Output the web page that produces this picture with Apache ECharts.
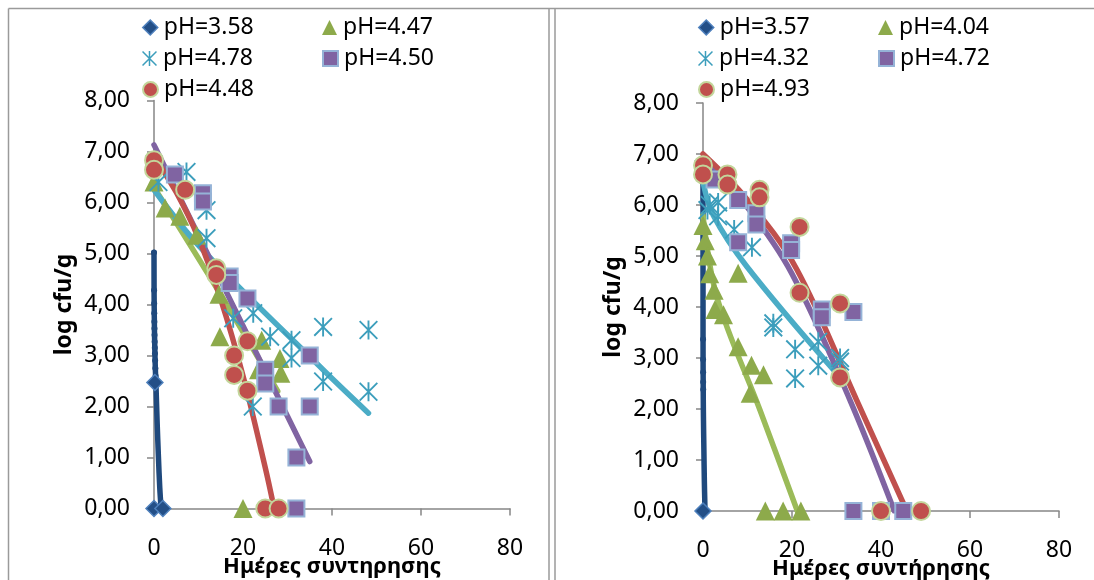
<!DOCTYPE html>
<html><head><meta charset="utf-8">
<script src="https://cdn.jsdelivr.net/npm/echarts@6/dist/echarts.min.js"></script>
<style>html,body{margin:0;padding:0;background:#fff}#c{width:1094px;height:580px}</style>
</head><body><div id="c"></div>
<script>
// ---------- DATA ----------
const yTickLabels = ['0,00','1,00','2,00','3,00','4,00','5,00','6,00','7,00','8,00'];
const xTickLabels = ['0','20','40','60','80'];
const xTitleLeft = 'Ημέρες συντηρησης';
const xTitleRight = 'Ημέρες συντήρησης';
const yTitle = 'log cfu/g';

const leftNames = ['pH=3.58','pH=4.47','pH=4.78','pH=4.50','pH=4.48'];
const rightNames = ['pH=3.57','pH=4.04','pH=4.32','pH=4.72','pH=4.93'];

// left panel observed points [day, log cfu/g]
const L358 = [[0.2,2.47],[0,0],[2,0]];
const L447 = [[0,6.4],[2.5,5.89],[5.8,5.73],[9.6,5.36],[14.6,4.2],[14.8,3.37],[24.2,3.3],[28.3,2.94],[23.5,2.72],[28.5,2.65],[20,0]];
const L478 = [[1,6.4],[7.3,6.6],[11.8,5.85],[11.8,5.3],[17.8,3.73],[22.3,3.83],[26.1,3.37],[30.9,3.3],[30.9,2.95],[38,3.56],[38,2.49],[48.2,3.5],[48.2,2.29],[22.2,2.0]];
const L450 = [[0,6.75],[4.7,6.55],[11,6.18],[11,6.02],[17,4.55],[17,4.42],[21,4.12],[25,2.72],[25,2.45],[28,2.0],[32,1.0],[32,0],[35,3.0],[35,2.0]];
const L448 = [[0,6.83],[0,6.64],[7,6.25],[14,4.71],[14,4.58],[18,3.0],[18,2.62],[21,3.28],[21,2.31],[25,0],[28,0]];
// left panel fitted curves
const Lfit358 = [[0,5.02],[0.02,4.28],[0.04,4.02],[0.06,3.83],[0.08,3.66],[0.1,3.53],[0.12,3.40],[0.15,3.27],[0.18,3.15],[0.21,3.04],[0.25,2.9],[0.3,2.75],[0.36,2.6],[0.45,2.4],[0.7,1.7],[1.0,1.0],[1.3,0.4],[1.6,0]];
const Lfit447 = [[0,6.3],[14.8,4.22],[27.8,2.3]];
const Lfit478 = [[0,6.25],[10.3,5.13],[38,2.72],[48.2,1.87]];
const Lfit450 = [[0,7.13],[35,0.92]];
const Lfit448 = [[0,6.9],[5,6.2],[10,5.3],[15,4.1],[20,2.6],[25,0.8],[27,0]];

// right panel observed points
const R357 = [[0,0]];
const R404 = [[0,5.6],[0.5,5.3],[1,5.0],[1.5,4.65],[2.5,4.33],[2.7,3.95],[4.6,3.85],[7.9,4.66],[7.9,3.22],[10.9,2.86],[10.6,2.31],[13.6,2.67],[14,0],[18,0],[22,0]];
const R432 = [[1.5,6.0],[3.4,6.05],[3.4,5.78],[1,5.9],[7,5.52],[11,5.17],[15.8,3.68],[15.8,3.6],[20.7,3.17],[20.7,2.6],[25.9,3.32],[25.9,2.85],[30.8,3.0],[30.8,2.93]];
const R472 = [[0,6.7],[2.6,6.5],[7.9,6.1],[12,5.84],[12,5.62],[7.9,5.27],[19.8,5.25],[19.8,5.12],[26.7,3.95],[26.7,3.8],[33.8,3.9],[33.8,0],[40,0],[45,0]];
const R493 = [[0,6.78],[0,6.6],[5.5,6.6],[5.5,6.4],[12.7,6.3],[12.7,6.15],[21.7,5.57],[21.7,4.28],[30.8,4.07],[30.8,2.62],[40,0],[49,0]];
// right panel fitted curves
const Rfit357 = [[0,6.6],[0.01,3.37],[0.02,2.97],[0.03,2.72],[0.04,2.53],[0.05,2.38],[0.06,2.25],[0.07,2.13],[0.08,2.02],[0.1,1.85],[0.12,1.7],[0.15,1.5],[0.2,1.2],[0.3,0.6],[0.45,0]];
const Rfit404 = [[0,5.8],[3.1,4.2],[12.8,1.98],[21.2,0]];
const Rfit432 = [[0,6.45],[2.3,5.8],[9.8,4.8],[29.5,2.75]];
const Rfit472 = [[0,6.9],[10,5.95],[20,4.65],[33,2.18],[43,0]];
const Rfit493 = [[0,7.0],[10,6.1],[21,4.75],[34.5,2.18],[45.8,0]];

// ---------- STYLE ----------
const F = 'Noto Sans';
const AX = '#868686';
const STAR = 'path://M9,0 L11,0 L11,20 L9,20 Z M1.4,0 L20,18.6 L18.6,20 L0,1.4 Z M18.6,0 L20,1.4 L1.4,20 L0,18.6 Z';
const styles = [
  {symbol:'diamond', size:16, item:{color:'#234F87', borderColor:'#4F81BD', borderWidth:1.5}, line:'#1F497D'},
  {symbol:'triangle', size:19, item:{color:'#8DAA4B'}, line:'#9BBB59'},
  {symbol:STAR, size:19, item:{color:'#3C9EBC'}, line:'#4BACC6'},
  {symbol:'rect', size:16, item:{color:'#8064A2', borderColor:'#95B3D7', borderWidth:2}, line:'#8064A2'},
  {symbol:'circle', size:18, item:{color:'#C0504D', borderColor:'#C3D69B', borderWidth:2}, line:'#C0504D'}
];

function yAx(idx){
  return {type:'value', gridIndex:idx, min:0, max:8, interval:1,
    name:yTitle, nameLocation:'middle', nameGap:78, nameRotate:90, nameMoveOverlap:false,
    nameTextStyle:{fontFamily:F, fontSize:23, fontWeight:'bold', color:'#000'},
    axisLine:{show:true, lineStyle:{color:AX, width:1.5}},
    axisTick:{show:true, length:7, lineStyle:{color:AX, width:1.5}},
    axisLabel:{fontFamily:F, fontSize:23, color:'#000', margin:24, formatter:v=>yTickLabels[Math.round(v)]},
    splitLine:{show:false}};
}
function xAx(idx, title){
  return {type:'value', gridIndex:idx, min:0, max:80, interval:20,
    name:title, nameLocation:'middle', nameGap:47, nameMoveOverlap:false,
    nameTextStyle:{fontFamily:F, fontSize:22, fontWeight:'bold', color:'#000'},
    axisLine:{show:true, onZero:false, lineStyle:{color:AX, width:1.5}},
    axisTick:{show:true, length:7, lineStyle:{color:AX, width:1.5}},
    axisLabel:{fontFamily:F, fontSize:23, color:'#000', margin:28, formatter:v=>xTickLabels[Math.round(v/20)]},
    splitLine:{show:false}};
}

const series = [];
function addPanel(idx, names, pts, fits){
  [0,1,2,3,4].forEach(i=>{
    const dots = (i===0);
    const data = fits[i].map(p => (dots && p[1] < 2.3) ? {value:p, symbolSize:0} : p);
    series.push({type:'line', name:'fit'+idx+'_'+i, xAxisIndex:idx, yAxisIndex:idx, data:data,
      showSymbol:dots, symbol:'circle', symbolSize:6, smooth:(i===3&&idx===0?false:0.35), silent:true,
      lineStyle:{width:5.5, color:styles[i].line, cap:'round', join:'round'},
      itemStyle:{color:styles[i].line}, z:2, animation:false});
  });
  names.forEach((nm,i)=>{
    series.push({type:'scatter', name:nm, xAxisIndex:idx, yAxisIndex:idx, data:pts[i],
      symbol:styles[i].symbol, symbolSize:styles[i].size, itemStyle:Object.assign({opacity:1}, styles[i].item),
      z:3, animation:false});
  });
}
addPanel(0, leftNames, [L358,L447,L478,L450,L448], [Lfit358,Lfit447,Lfit478,Lfit450,Lfit448]);
addPanel(1, rightNames, [R357,R404,R432,R472,R493], [Rfit357,Rfit404,Rfit432,Rfit472,Rfit493]);

// legends: one per item, two columns x three rows per panel
const legends = [];
const colX = [[142,322],[698,878]];
const rowY = [16,47,78];
[leftNames,rightNames].forEach((names,p)=>{
  names.forEach((nm,i)=>{
    legends.push({data:[{name:nm, icon:styles[i].symbol, itemStyle:styles[i].item}],
      left:colX[p][i%2], top:rowY[Math.floor(i/2)], itemWidth:15, itemHeight:15, itemGap:0, padding:0,
      textStyle:{fontFamily:F, fontSize:23, color:'#000', padding:[0,0,0,1]}, selectedMode:false});
  });
});

const chart = echarts.init(document.getElementById('c'), null, {renderer:'canvas'});
chart.setOption({
  backgroundColor:'#fff',
  animation:false,
  grid:[{left:154, top:100.5, width:356, height:408, containLabel:false, outerBoundsMode:'none'},
        {left:703, top:103, width:356, height:408, containLabel:false, outerBoundsMode:'none'}],
  xAxis:[xAx(0,xTitleLeft), xAx(1,xTitleRight)],
  yAxis:[yAx(0), yAx(1)],
  legend:legends,
  series:series,
  graphic:[
    {type:'line', shape:{x1:8.5,y1:8.5,x2:1094,y2:8.5}, style:{stroke:'#9a9a9a', lineWidth:1.5}},
    {type:'line', shape:{x1:8.5,y1:8.5,x2:8.5,y2:580}, style:{stroke:'#9a9a9a', lineWidth:1.5}},
    {type:'line', shape:{x1:549,y1:8.5,x2:549,y2:580}, style:{stroke:'#9a9a9a', lineWidth:1.5}},
    {type:'line', shape:{x1:555,y1:8.5,x2:555,y2:580}, style:{stroke:'#9a9a9a', lineWidth:1.5}}
  ]
});
</script></body></html>
